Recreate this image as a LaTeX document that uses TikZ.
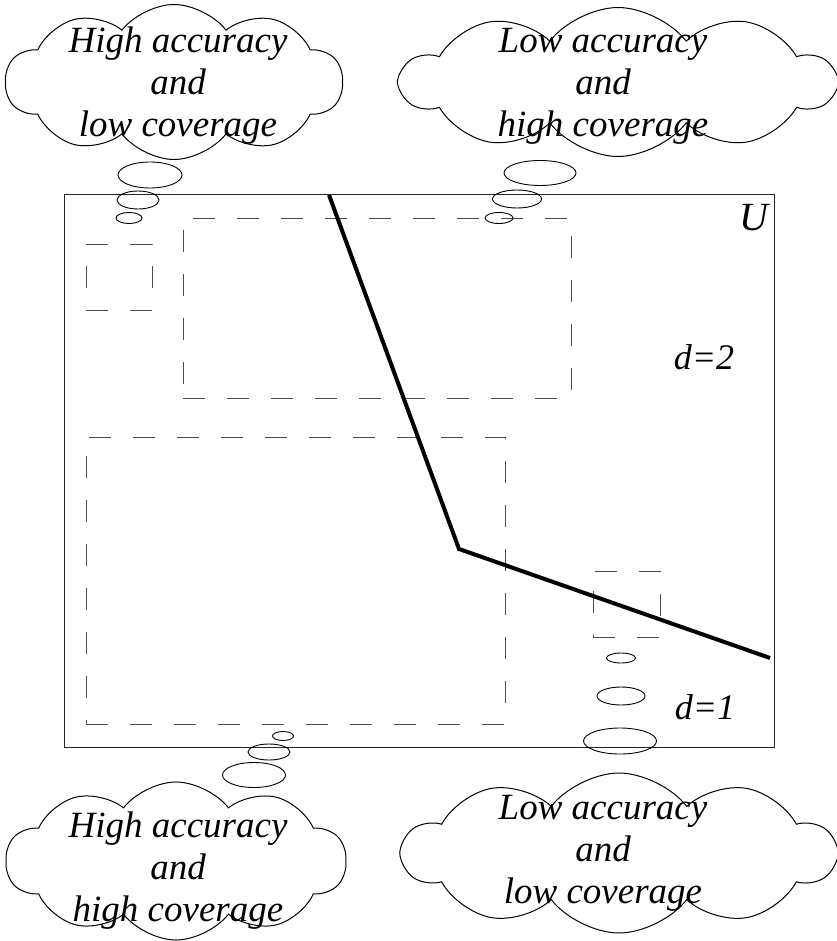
\documentclass[tikz,border=0pt]{standalone}
\usepackage{fontspec}
\setmainfont{Liberation Serif}
\usetikzlibrary{shapes.symbols,shapes.geometric}
\tikzset{
  thought/.style={cloud, draw, line width=1pt, cloud puffs=10, cloud puff arc=105,
    cloud ignores aspect, inner sep=0pt, shape border rotate=8},
  cloudtext/.style={align=center, inner sep=0pt, font=\fontsize{37}{42}\selectfont\itshape},
  bubble/.style={ellipse, draw, line width=0.9pt, inner sep=0pt},
  frame/.style={rectangle, draw=black!85, line width=1pt, inner sep=0pt},
  dbox/.style={rectangle, draw=black!70, line width=0.9pt, dash pattern=on 22pt off 22pt, inner sep=0pt},
  thickline/.style={line width=4pt, black},
  lbl/.style={inner sep=0pt, anchor=base, font=\fontsize{36}{40}\selectfont\itshape}
}
\begin{document}
\begin{tikzpicture}[x=1pt,y=-1pt]
\useasboundingbox (0,0) rectangle (836,941);

% universe frame
\node[frame, minimum width=710pt, minimum height=552pt] (U) at (419,471) {};

% dashed regions
\node[dbox, minimum width=388pt, minimum height=180pt] (r1) at (377,308) {};
\node[dbox, minimum width=66pt, minimum height=66pt] (r2) at (119,277) {};
\node[dbox, minimum width=419pt, minimum height=287pt] (r3) at (295.5,580.5) {};
\node[dbox, minimum width=67pt, minimum height=66pt] (r4) at (626.5,604) {};

% thick boundary
\coordinate (p0) at (329,195);
\coordinate (p1) at (459,549);
\coordinate (p2) at (770,658);
\draw[thickline] (p0) -- (p1) -- (p2);

% labels
\node[lbl, font=\fontsize{40}{44}\selectfont\itshape] (lu) at (754,230) {U};
\node[lbl] (ld2) at (704,369) {d=2};
\node[lbl] (ld1) at (705,719) {d=1};

% clouds
\node[thought, minimum width=337pt, minimum height=155pt] (c1) at (174,82) {};
\node[cloudtext] (t1) at (178,86) {High accuracy\\and\\low coverage};
\node[thought, minimum width=433pt, minimum height=149pt] (c2) at (618,82) {};
\node[cloudtext] (t2) at (603,86) {Low accuracy\\and\\high coverage};
\node[thought, minimum width=340pt, minimum height=158pt] (c3) at (176,861) {};
\node[cloudtext] (t3) at (178,871) {High accuracy\\and\\high coverage};
\node[thought, minimum width=432pt, minimum height=160pt] (c4) at (619,853) {};
\node[cloudtext] (t4) at (603,853) {Low accuracy\\and\\low coverage};

% thought bubbles top-left
\node[bubble, minimum width=64pt, minimum height=26pt] (a1) at (150,175) {};
\node[bubble, minimum width=42pt, minimum height=18pt] (a2) at (138,200) {};
\node[bubble, minimum width=26pt, minimum height=11pt] (a3) at (129,218) {};
% top-right
\node[bubble, minimum width=72pt, minimum height=25pt] (b1) at (540,173) {};
\node[bubble, minimum width=49pt, minimum height=18pt] (b2) at (517,199) {};
\node[bubble, minimum width=28pt, minimum height=11pt] (b3) at (499,218) {};
% bottom-left
\node[bubble, minimum width=21pt, minimum height=9pt] (e1) at (283,736) {};
\node[bubble, minimum width=42pt, minimum height=16pt] (e2) at (269,752) {};
\node[bubble, minimum width=63pt, minimum height=25pt] (e3) at (254,775) {};
% bottom-right
\node[bubble, minimum width=29pt, minimum height=10pt] (f1) at (621,658) {};
\node[bubble, minimum width=48pt, minimum height=18pt] (f2) at (621,696) {};
\node[bubble, minimum width=73pt, minimum height=26pt] (f3) at (620,741) {};
\end{tikzpicture}
\end{document}
